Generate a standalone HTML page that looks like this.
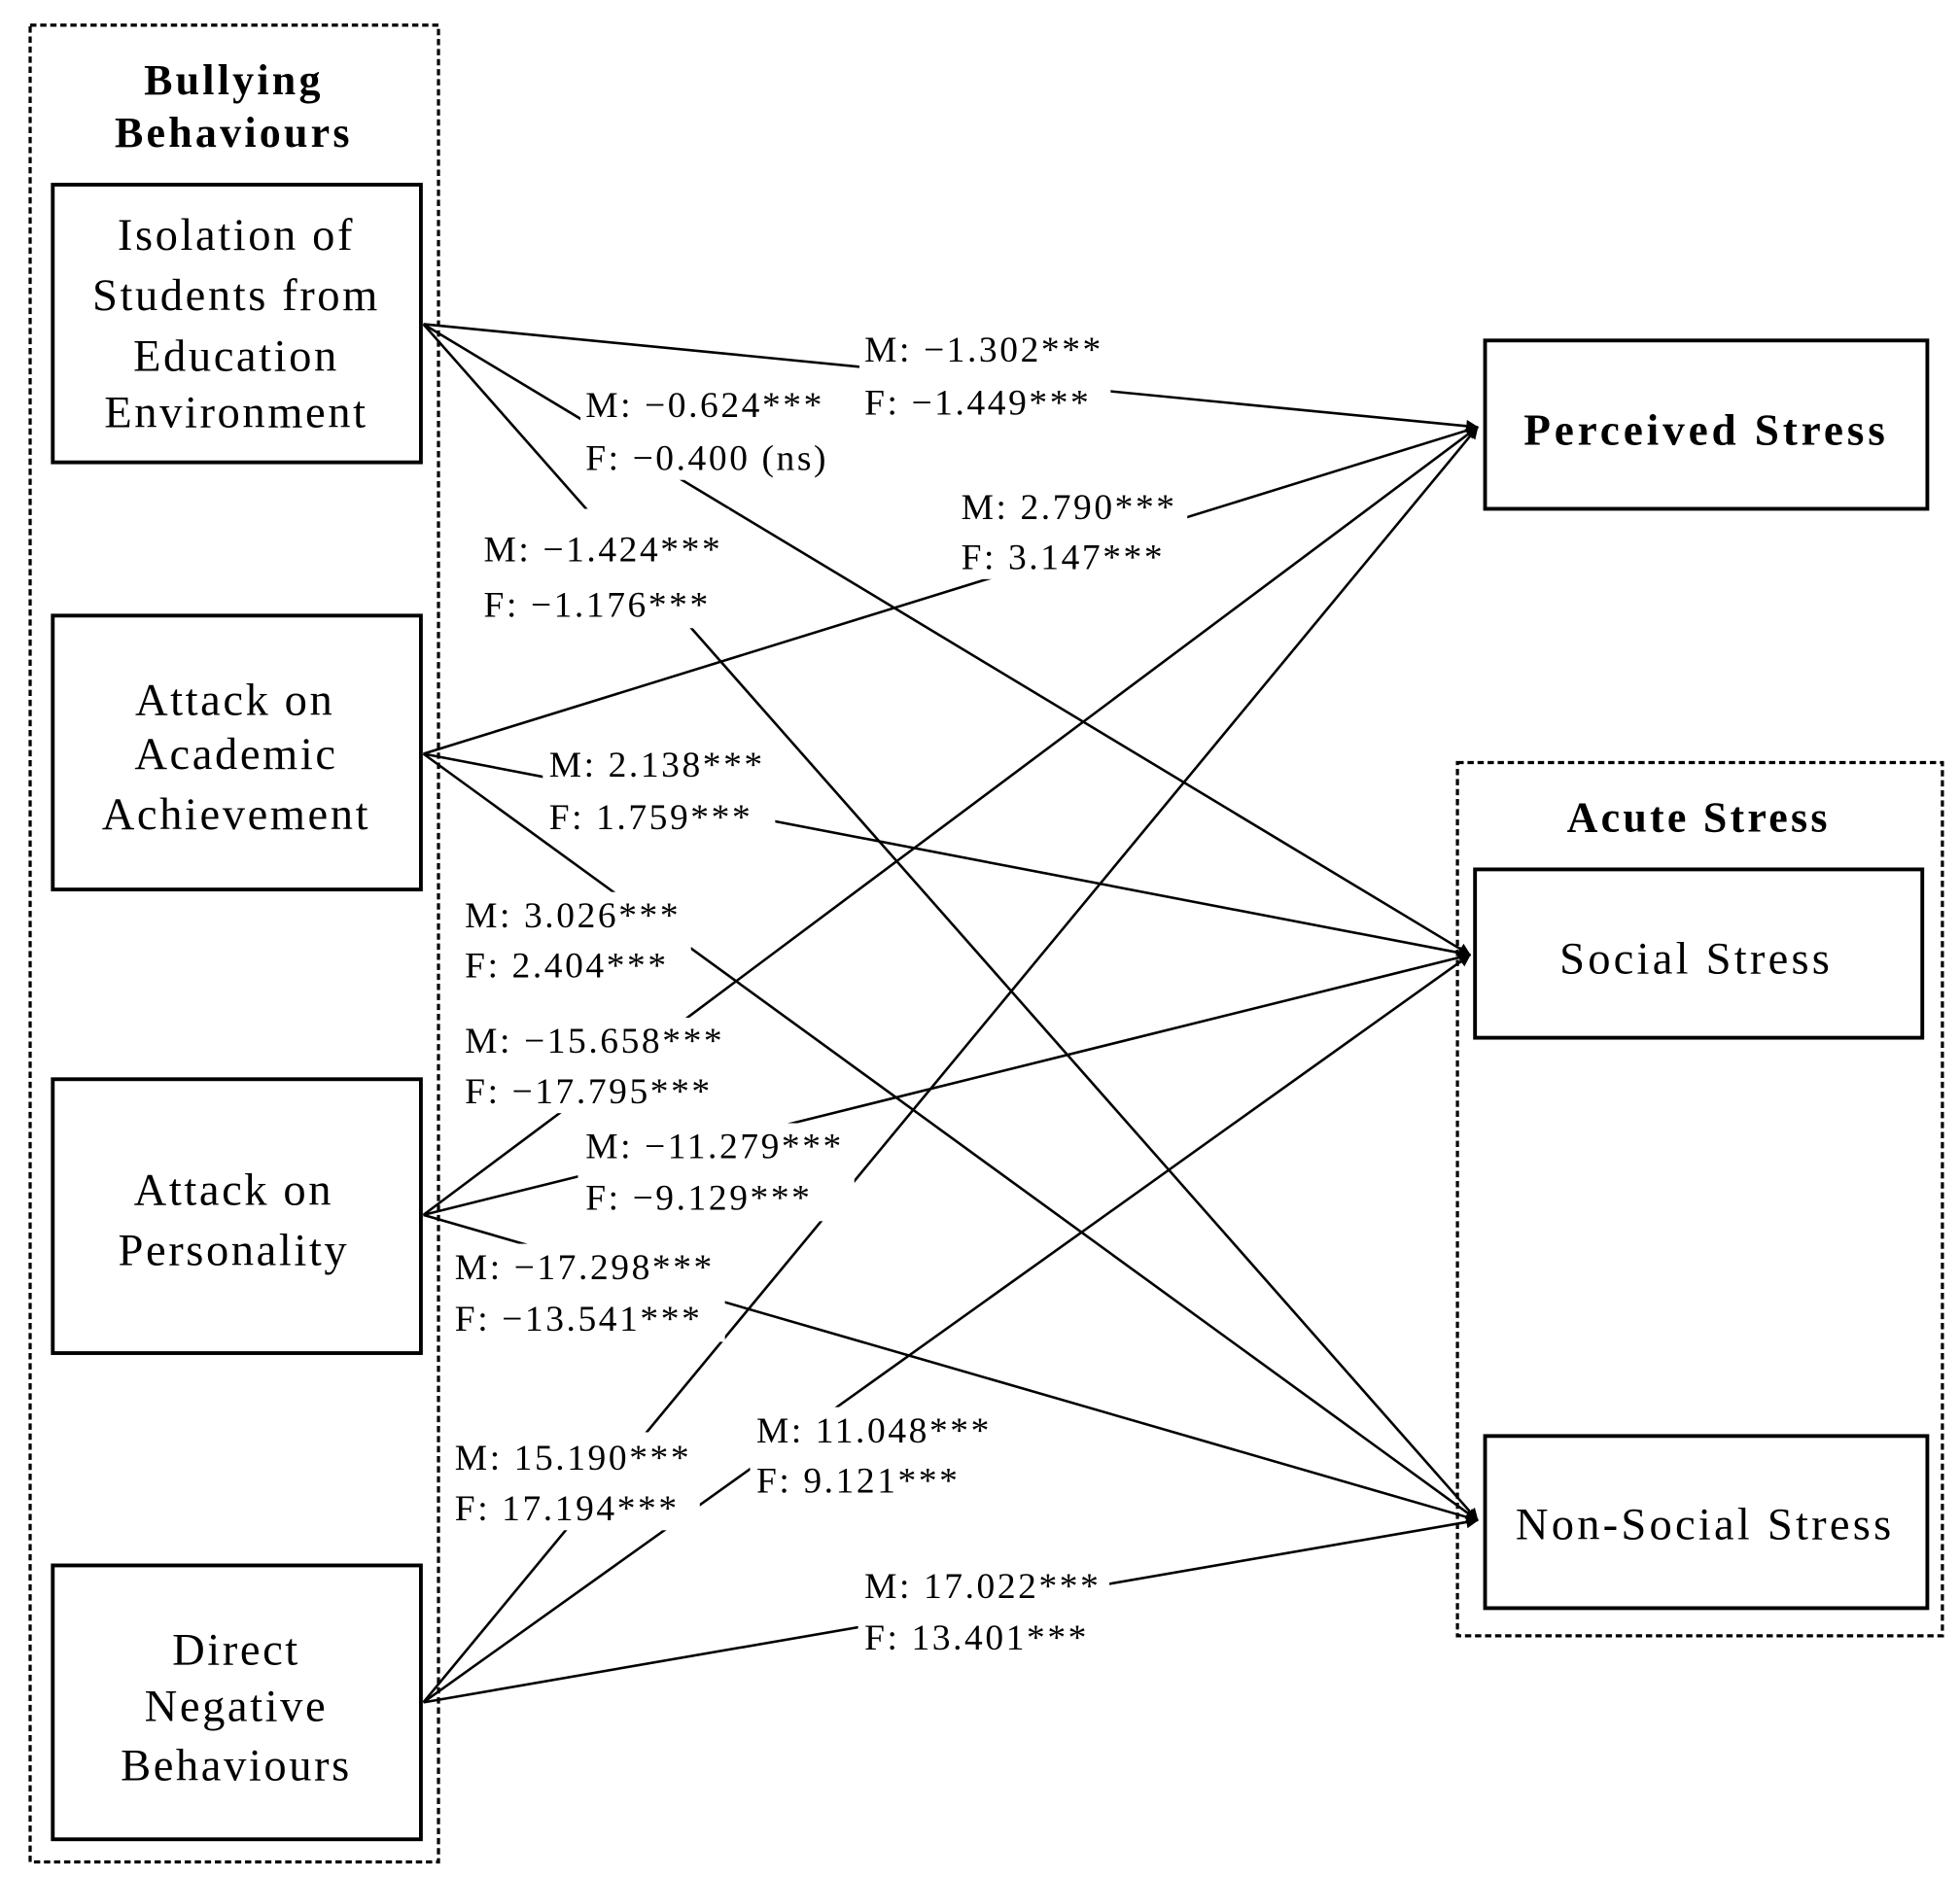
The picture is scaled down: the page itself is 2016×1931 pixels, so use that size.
<!DOCTYPE html>
<html><head><meta charset="utf-8">
<style>html,body{margin:0;padding:0;background:#fff;}svg{display:block;}</style>
</head><body>
<svg width="2016" height="1931" viewBox="0 0 1560 1494" preserveAspectRatio="none" xmlns="http://www.w3.org/2000/svg" font-family="'Liberation Serif', serif">
<defs>
<marker id="a" markerWidth="10" markerHeight="10" refX="9" refY="5" orient="auto" markerUnits="userSpaceOnUse"><path d="M0,0 L10,5 L0,10 z" fill="#000"/></marker>
</defs>
<rect x="24" y="20" width="325" height="1462" fill="none" stroke="#000" stroke-width="2.5" stroke-dasharray="5,3"/>
<rect x="1160" y="607" width="386" height="695" fill="none" stroke="#000" stroke-width="2.5" stroke-dasharray="5,3"/>
<g stroke="#000" stroke-width="2" fill="none" marker-end="url(#a)">
<line x1="337" y1="258" x2="1176" y2="340"/>
<line x1="337" y1="258" x2="1170" y2="760"/>
<line x1="337" y1="258" x2="1176" y2="1210"/>
<line x1="337" y1="600" x2="1176" y2="340"/>
<line x1="337" y1="600" x2="1170" y2="760"/>
<line x1="337" y1="600" x2="1176" y2="1210"/>
<line x1="337" y1="967" x2="1176" y2="340"/>
<line x1="337" y1="967" x2="1170" y2="760"/>
<line x1="337" y1="967" x2="1176" y2="1210"/>
<line x1="337" y1="1355" x2="1176" y2="340"/>
<line x1="337" y1="1355" x2="1170" y2="760"/>
<line x1="337" y1="1355" x2="1176" y2="1210"/>
</g>
<g fill="#fff">
<rect x="684" y="260" width="200" height="78"/>
<rect x="462" y="304" width="206" height="78"/>
<rect x="380" y="405" width="200" height="95"/>
<rect x="760" y="385" width="185" height="76"/>
<rect x="432" y="590" width="185" height="78"/>
<rect x="365" y="710" width="185" height="76"/>
<rect x="365" y="810" width="200" height="76"/>
<rect x="460" y="894" width="220" height="78"/>
<rect x="357" y="990" width="220" height="78"/>
<rect x="357" y="1140" width="200" height="78"/>
<rect x="597" y="1120" width="200" height="76"/>
<rect x="683" y="1244" width="200" height="78"/>
</g>
<g fill="#fff" stroke="#000" stroke-width="3">
<rect x="42" y="147" width="293" height="221"/>
<rect x="42" y="490" width="293" height="218"/>
<rect x="42" y="859" width="293" height="218"/>
<rect x="42" y="1246" width="293" height="218"/>
<rect x="1182" y="271" width="352" height="134"/>
<rect x="1174" y="692" width="356" height="134"/>
<rect x="1182" y="1143" width="352" height="137"/>
</g>
<g font-size="36" text-anchor="middle" fill="#000" letter-spacing="2">
<text x="186" y="75" font-weight="bold" font-size="34" letter-spacing="2.5">Bullying</text>
<text x="186" y="117" font-weight="bold" font-size="34" letter-spacing="2.5">Behaviours</text>
<text x="188" y="199">Isolation of</text>
<text x="188" y="247">Students from</text>
<text x="188" y="295">Education</text>
<text x="188" y="340">Environment</text>
<text x="187" y="569">Attack on</text>
<text x="188" y="612">Academic</text>
<text x="188" y="660">Achievement</text>
<text x="186" y="959">Attack on</text>
<text x="186" y="1007">Personality</text>
<text x="188" y="1325">Direct</text>
<text x="188" y="1370">Negative</text>
<text x="188" y="1417">Behaviours</text>
<text x="1358" y="354" font-weight="bold" font-size="35" letter-spacing="3">Perceived Stress</text>
<text x="1352" y="662" font-weight="bold" font-size="34" letter-spacing="2.5">Acute Stress</text>
<text x="1350" y="775" letter-spacing="2.5">Social Stress</text>
<text x="1357" y="1225" letter-spacing="2.5">Non-Social Stress</text>
</g>
<g font-size="29" fill="#000" letter-spacing="2">
<text x="688" y="288">M: −1.302***</text><text x="688" y="330">F: −1.449***</text>
<text x="466" y="332">M: −0.624***</text><text x="466" y="374">F: −0.400 (ns)</text>
<text x="385" y="447">M: −1.424***</text><text x="385" y="491">F: −1.176***</text>
<text x="765" y="413">M: 2.790***</text><text x="765" y="453">F: 3.147***</text>
<text x="437" y="618">M: 2.138***</text><text x="437" y="660">F: 1.759***</text>
<text x="370" y="738">M: 3.026***</text><text x="370" y="778">F: 2.404***</text>
<text x="370" y="838">M: −15.658***</text><text x="370" y="878">F: −17.795***</text>
<text x="466" y="922">M: −11.279***</text><text x="466" y="963">F: −9.129***</text>
<text x="362" y="1018">M: −17.298***</text><text x="362" y="1059">F: −13.541***</text>
<text x="362" y="1170">M: 15.190***</text><text x="362" y="1210">F: 17.194***</text>
<text x="602" y="1148">M: 11.048***</text><text x="602" y="1188">F: 9.121***</text>
<text x="688" y="1272">M: 17.022***</text><text x="688" y="1313">F: 13.401***</text>
</g>
</svg>
</body></html>
